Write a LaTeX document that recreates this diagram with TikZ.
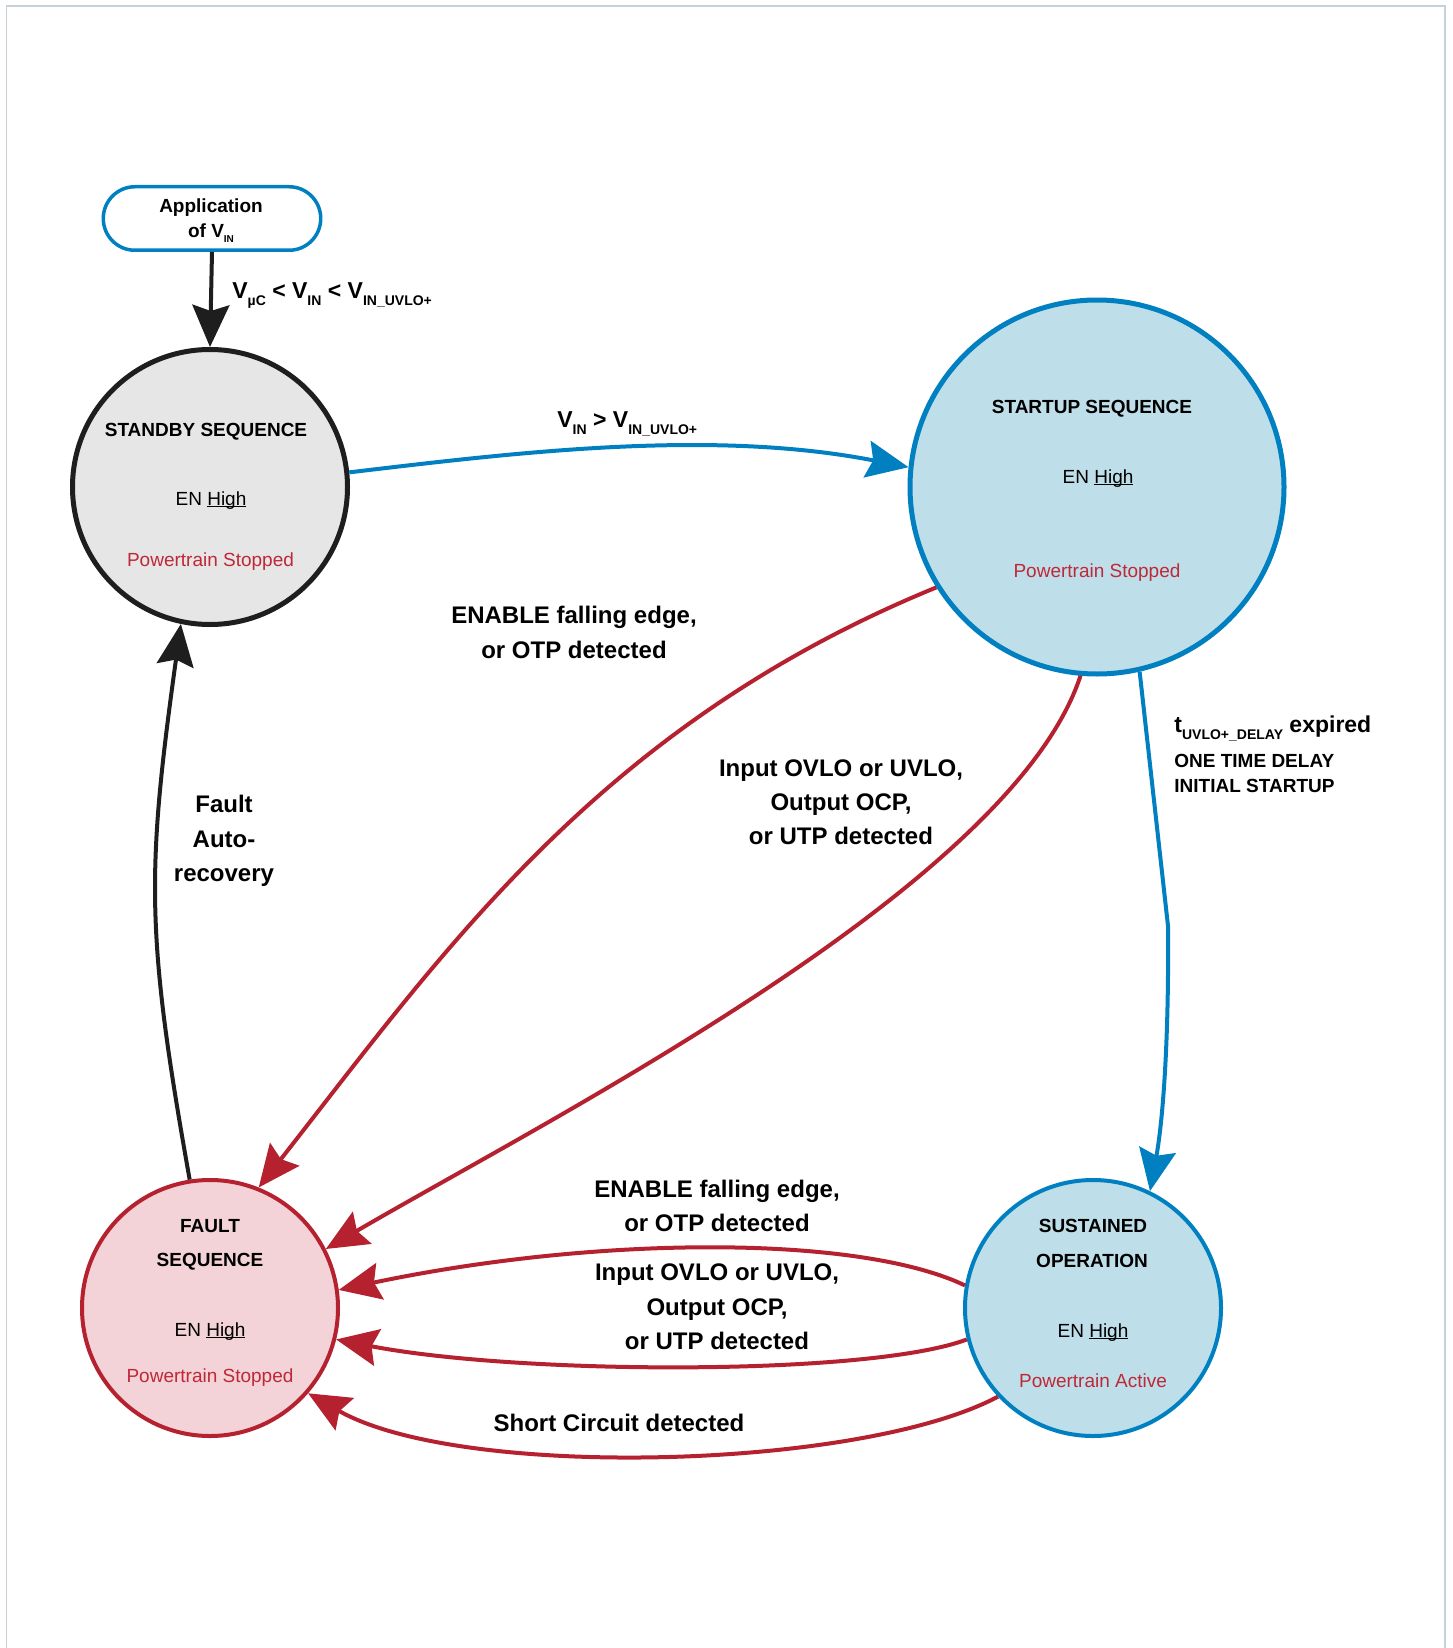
\documentclass[tikz,border=0pt]{standalone}
\usepackage{fontspec}
\setmainfont{Liberation Sans}
\usetikzlibrary{arrows.meta}
\definecolor{cblue}{RGB}{0,128,192}
\definecolor{cltblue}{RGB}{190,223,233}
\definecolor{cgray}{RGB}{230,230,230}
\definecolor{cpink}{RGB}{243,211,215}
\definecolor{cred}{RGB}{181,33,47}
\definecolor{credtxt}{RGB}{190,40,55}
\definecolor{cblack}{RGB}{30,30,30}
\definecolor{cframe}{RGB}{197,210,218}
\newsavebox\ulbox
\newcommand\enul[1]{\sbox\ulbox{#1}\rlap{\rule[-0.13em]{\wd\ulbox}{0.075em}}\usebox\ulbox}
\newcommand\sbs[1]{\raisebox{-3.5pt}{\fontsize{7}{8}\selectfont #1}}
\newcommand\sbsm[1]{\raisebox{-2pt}{\fontsize{5}{6}\selectfont #1}}
\tikzset{
  stnode/.style={circle, inner sep=0pt, outer sep=0.5\pgflinewidth},
  ttl/.style={font=\fontsize{9.5}{11}\selectfont\bfseries, anchor=base, inner sep=0pt},
  txt/.style={font=\fontsize{9.5}{11}\selectfont, anchor=base, inner sep=0pt, text=black},
  rtxt/.style={font=\fontsize{9.5}{11}\selectfont, anchor=base, inner sep=0pt, text=credtxt},
  lbl/.style={font=\fontsize{12}{14}\selectfont\bfseries, anchor=base, inner sep=0pt},
  cond/.style={font=\fontsize{11.5}{14}\selectfont\bfseries, anchor=base west, inner sep=0pt},
  arr/.style={line width=2pt, -{Stealth[length=21pt,width=18.5pt,inset=3pt]}},
}
\begin{document}
\begin{tikzpicture}[x=0.5pt,y=-0.5pt]
\useasboundingbox (0,0) rectangle (1452,1648);
\draw[cframe, line width=0.75pt] (6.5,1648) -- (6.5,6) -- (1445,6) -- (1445,1648);

% states
\node[stnode, draw=cblack, fill=cgray, line width=2.5pt, minimum size=137.5pt] (sb) at (210,487) {};
\node[stnode, draw=cblue, fill=cltblue, line width=2.5pt, minimum size=187pt] (su) at (1097,487) {};
\node[stnode, draw=cred, fill=cpink, line width=2pt, minimum size=128pt] (fa) at (210,1308) {};
\node[stnode, draw=cblue, fill=cltblue, line width=2pt, minimum size=128pt] (sus) at (1093,1308) {};
\node[draw=cblue, fill=white, line width=1.75pt, rounded corners=15.8pt, minimum width=108.7pt, minimum height=31.75pt, inner sep=0pt] (app) at (212,218.5) {};

% state texts
\node[ttl] (appA) at (211,213) {Application};
\node[ttl] (appB) at (211,238) {of V\sbsm{IN}};

\node[ttl] (sbT) at (206,436) {STANDBY SEQUENCE};
\node[txt] (sbE) at (211,505) {EN \enul{High}};
\node[rtxt] (sbP) at (210.5,566) {Powertrain Stopped};

\node[ttl] (suT) at (1092,413) {STARTUP SEQUENCE};
\node[txt] (suE) at (1098,483) {EN \enul{High}};
\node[rtxt] (suP) at (1097,577) {Powertrain Stopped};

\node[ttl] (faT1) at (210,1232) {FAULT};
\node[ttl] (faT2) at (210,1266) {SEQUENCE};
\node[txt] (faE) at (210,1336) {EN \enul{High}};
\node[rtxt] (faP) at (210,1382) {Powertrain Stopped};

\node[ttl] (susT1) at (1093,1232) {SUSTAINED};
\node[ttl] (susT2) at (1092,1267) {OPERATION};
\node[txt] (susE) at (1093,1337) {EN \enul{High}};
\node[rtxt] (susP) at (1093,1387) {Powertrain Active};

% connectors
\draw[arr, cblack] (app.south) -- (sb.north);
\draw[arr, cblue] (sb.6.9) .. controls (520,452) and (712,429) .. (su.174.6);
\draw[arr, cred] (su.212.7) .. controls (600,725) and (444,951) .. (fa.68.7);
\draw[arr, cred] (su.265) .. controls (1012,885) and (550,1118) .. (fa.27.3);
\coordinate (kink) at (1168,926);
\draw[arr, cblue] (su.283.1) -- (kink) .. controls (1169,1040) and (1163,1120) .. (sus.64.2);
\draw[arr, cblack] (fa.99.6) .. controls (145.5,932) and (146.5,872.5) .. (sb.258.9);
\draw[arr, cred] (sus.170.8) .. controls (860,1235) and (600,1235) .. (fa.8.7);
\draw[arr, cred] (sus.194.9) .. controls (870,1376) and (520,1375) .. (fa.346.7);
\draw[arr, cred] (sus.223.1) .. controls (860,1470) and (460,1480) .. (fa.319.6);

% connector labels
\node[cond] (cA) at (232,299) {V\sbs{µC} < V\sbs{IN} < V\sbs{IN\_UVLO+}};
\node[cond] (cB) at (557,427) {V\sbs{IN} > V\sbs{IN\_UVLO+}};

\node[cond] (cC1) at (1174,732) {t\sbs{UVLO+\_DELAY} expired};
\node[ttl, anchor=base west] (cC2) at (1174,767) {ONE TIME DELAY};
\node[ttl, anchor=base west] (cC3) at (1174,792) {INITIAL STARTUP};

\node[lbl] (e1a) at (574,623.5) {ENABLE falling edge,};
\node[lbl] (e1b) at (574,658) {or OTP detected};

\node[lbl] (e2a) at (841,776) {Input OVLO or UVLO,};
\node[lbl] (e2b) at (841,810) {Output OCP,};
\node[lbl] (e2c) at (841,844.5) {or UTP detected};

\node[lbl] (fr1) at (224,812.5) {Fault};
\node[lbl] (fr2) at (224,847) {Auto-};
\node[lbl] (fr3) at (224,881.5) {recovery};

\node[lbl] (b1a) at (717,1197) {ENABLE falling edge,};
\node[lbl] (b1b) at (717,1231) {or OTP detected};
\node[lbl] (b2a) at (717,1280) {Input OVLO or UVLO,};
\node[lbl] (b2b) at (717,1315) {Output OCP,};
\node[lbl] (b2c) at (717,1349) {or UTP detected};
\node[lbl] (b3) at (619,1431) {Short Circuit detected};
\end{tikzpicture}
\end{document}
